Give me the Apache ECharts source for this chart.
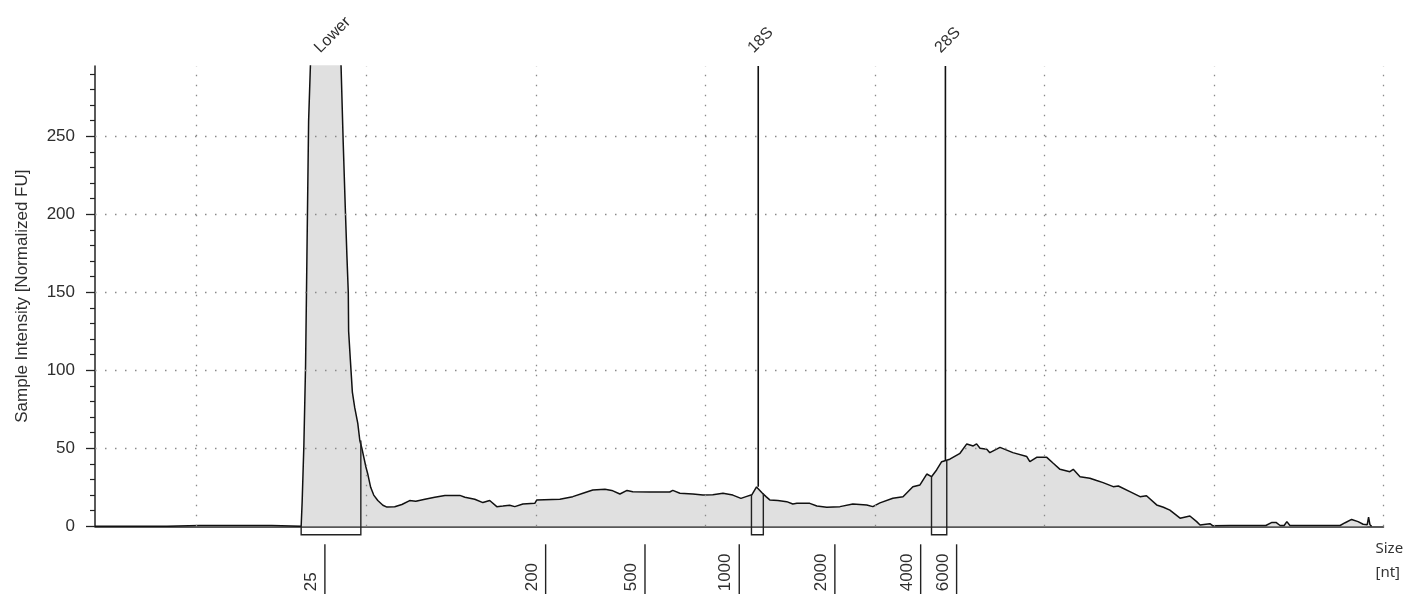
<!DOCTYPE html>
<html><head><meta charset="utf-8">
<script src="https://cdn.jsdelivr.net/npm/echarts@6/dist/echarts.min.js"></script>
<style>html,body{margin:0;padding:0;background:#fff}#c{width:1410px;height:594px}</style>
</head><body><div id="c"></div>
<script>
// migration time (s) and sample intensity (normalized FU)
const timeS = [17.0,19.12,19.14,20.09,20.12,20.18,20.83,20.86,20.92,22.01,22.21,22.24,23.08,23.11,23.16,23.21,23.25,23.30,23.36,23.78,24.25,24.32,24.38,24.43,24.47,24.48,24.53,24.59,24.66,24.75,24.81,24.87,24.93,24.99,25.05,25.13,25.22,25.34,25.49,25.61,25.84,26.05,26.28,26.46,26.73,27.02,27.32,27.76,27.91,28.20,28.44,28.64,28.85,29.03,29.23,29.38,29.62,29.97,30.03,30.71,31.09,31.39,31.68,32.04,32.24,32.48,32.69,32.86,33.36,33.95,34.04,34.25,34.63,34.93,35.22,35.52,35.81,36.05,36.20,36.37,36.51,36.56,36.67,36.79,36.90,37.14,37.40,37.58,37.70,38.08,38.29,38.58,38.97,39.35,39.76,39.94,40.15,40.53,40.83,41.12,41.33,41.53,41.67,41.82,41.97,42.21,42.51,42.71,42.90,43.00,43.10,43.30,43.39,43.69,44.07,44.48,44.57,44.77,45.07,45.26,45.46,45.75,45.85,46.05,46.34,46.54,46.73,47.03,47.18,47.52,47.82,48.01,48.31,48.51,48.70,49.00,49.29,49.49,49.59,49.88,49.97,50.47,51.53,51.71,51.83,51.95,52.07,52.15,52.24,53.72,53.87,54.06,54.25,54.40,54.52,54.56,54.60,54.65];
const intensity = [0,0,0.5,0.5,0,0.5,0.5,0,0.5,0.5,0.5,0,0,16,52,103,173,260,300,330,300,246,205,173,150,125,107,86,76,66,55,50,44,38,33,25,20,16.5,13.5,12.3,12.5,14,16.5,16,17.3,18.6,19.8,19.8,18.6,17.3,15.2,16.5,12.6,13,13.5,12.6,14.3,14.7,16.9,17.3,19,21.2,23.3,23.7,23,20.7,23,22.2,22,22,23,21.2,20.7,20,20.2,21.2,20,17.9,19,20.2,25.2,25.4,21.5,19,16.9,16.5,15.8,14.3,14.7,14.7,13,12.2,12.6,14.3,13.7,12.6,15,18,19,25.4,26.5,33.5,31.8,36.1,41.4,43,46.8,52.8,51.5,52.8,50,49.4,47.2,50.6,47.2,44.7,41.4,44.2,44.2,40.4,36.5,35,36.5,31.8,30.8,29.3,28,25.4,25.8,22.2,19,19.6,13.7,12.2,10.4,5.2,6.6,3,0.8,1.7,0.3,0.5,0.5,2.5,2.5,0.5,0.5,3,0.5,0.5,2.3,4.4,3,1.3,1,5.8,1,0];

const yTickValues = [0,50,100,150,200,250];
const yMinorTickValues = [10,20,30,40,60,70,80,90,110,120,130,140,160,170,180,190,210,220,230,240,260,270,280,290];
const xGridValues = [20,25,30,35,40,45,50,55];
const yGridValues = [50,100,150,200,250];

const ladderSizes = ['25','200','500','1000','2000','4000','6000'];
const ladderTimes = [23.78,30.29,33.22,36.00,38.82,41.35,42.41];

const peakNames = ['Lower','18S','28S'];
const peakTimes = [23.78,36.56,42.08];
const peakStart = [23.08,36.36,41.67];
const peakEnd = [24.84,36.71,42.12];
const peakStartHeight = [0,20.2,31.8];
const peakEndHeight = [55,21,42];
const peakTopHeight = [295,25.4,42];

const Y_MAX = 295;
const FONT = 'Liberation Sans, Arial, sans-serif';

const chart = echarts.init(document.getElementById('c'), null, {renderer:'canvas'});
const curve = timeS.map((t,i)=>[t,intensity[i]]);
const ladderData = ladderTimes.map(t=>[t,0]);
const peakData = peakTimes.map((t,i)=>[t,peakStart[i],peakEnd[i],peakStartHeight[i],peakEndHeight[i],Math.min(peakTopHeight[i],Y_MAX)]);

chart.setOption({
  animation:false,
  backgroundColor:'#fff',
  grid:{left:95,right:26.5,top:66,bottom:67.7,containLabel:false},
  xAxis:{type:'value',min:17,max:55,
    axisLine:{show:true,lineStyle:{color:'#222',width:1.5}},
    axisTick:{show:false},axisLabel:{show:false},splitLine:{show:false},
    name:'Size\n[nt]',nameLocation:'end',nameGap:-8,
    nameTextStyle:{fontFamily:'Noto Sans, sans-serif',fontSize:15,color:'#333',align:'left',verticalAlign:'top',lineHeight:24,padding:[10,0,0,0]}
  },
  yAxis:[{type:'value',min:0,max:Y_MAX,interval:50,position:'left',
    axisLine:{show:true,lineStyle:{color:'#222',width:1.5}},
    axisTick:{show:true,length:9,customValues:yTickValues,lineStyle:{color:'#222',width:1.3}},
    axisLabel:{customValues:yTickValues,margin:20,fontFamily:FONT,fontSize:17,color:'#2e2e2e'},
    splitLine:{show:false},
    name:'Sample Intensity [Normalized FU]',nameLocation:'middle',nameGap:64,
    nameTextStyle:{fontFamily:FONT,fontSize:17,color:'#2e2e2e'}
  },{type:'value',min:0,max:Y_MAX,position:'left',
    axisLine:{show:false},
    axisTick:{show:true,length:5,customValues:yMinorTickValues,lineStyle:{color:'#222',width:1.2}},
    axisLabel:{show:false},splitLine:{show:false}
  }],
  series:[{
    type:'line',data:curve,showSymbol:false,symbol:'none',
    lineStyle:{color:'#111',width:1.5},
    areaStyle:{color:'#e0e0e0',opacity:1},
    markLine:{silent:true,symbol:['none','none'],label:{show:false},animation:false,
      lineStyle:{type:[1.5,8.5],color:'#8a8a8a',width:1.3},
      emphasis:{disabled:true},
      data:[...xGridValues.map(v=>({xAxis:v})),...yGridValues.map(v=>({yAxis:v}))]}
  },{
    type:'custom',data:peakData,clip:false,silent:true,z:5,
    renderItem:function(params,api){
      const i=params.dataIndex;
      const top=params.coordSys.y;
      const base=api.coord([api.value(0),0])[1];
      const pm=api.coord([api.value(0),api.value(5)]);
      const ps=api.coord([api.value(1),api.value(3)]);
      const pe=api.coord([api.value(2),api.value(4)]);
      const bottom=base+8.5;
      return {type:'group',children:[
        {type:'line',shape:{x1:pm[0],y1:top,x2:pm[0],y2:pm[1]},style:{stroke:'#111',lineWidth:1.6}},
        {type:'polyline',shape:{points:[[ps[0],ps[1]],[ps[0],bottom],[pe[0],bottom],[pe[0],pe[1]]]},style:{stroke:'#222',fill:null,lineWidth:1.4}},
        {type:'text',x:pm[0]-2,y:top-10,rotation:Math.PI/4,style:{text:peakNames[i],font:'16px '+FONT,fill:'#2e2e2e',align:'left',verticalAlign:'bottom'}}
      ]};
    }
  },{
    type:'custom',data:ladderData,clip:false,silent:true,z:5,
    renderItem:function(params,api){
      const i=params.dataIndex;
      const p=api.coord([api.value(0),0]);
      return {type:'group',children:[
        {type:'line',shape:{x1:p[0],y1:p[1]+18,x2:p[0],y2:p[1]+70},style:{stroke:'#222',lineWidth:1.4}},
        {type:'text',x:p[0]-13.5,y:p[1]+65,rotation:Math.PI/2,style:{text:ladderSizes[i],font:'17px '+FONT,fill:'#2e2e2e',align:'left',verticalAlign:'middle'}}
      ]};
    }
  }]
});
</script></body></html>
